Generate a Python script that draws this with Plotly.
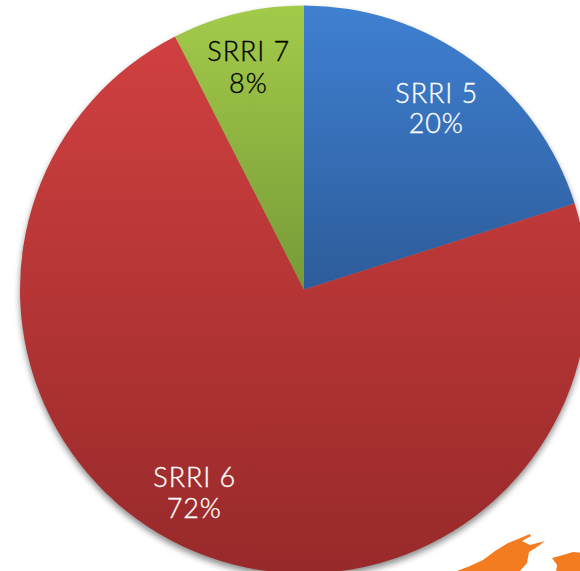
import plotly.graph_objects as go

categories = ["SRRI 5", "SRRI 6", "SRRI 7"]
drawn_shares = [20.1, 72.4, 7.5]
printed_percent = [20, 72, 8]
slice_top = ["#3f80d2", "#d04040", "#a3cb4a"]
slice_bottom = ["#2d5c9a", "#98292a", "#779a37"]
text_colors = ["white", "white", "black"]

W, H = 620, 600
CX, CY, R = 304, 289.5, 284
label_px = [(436, 92, 123), (194, 476, 507), (248, 50, 82)]


def px(x, y):
    return x / W, 1 - y / H


def path(points):
    return "M" + " L".join(f"{a:.4f},{b:.4f}" for a, b in (px(*p) for p in points)) + " Z"


bull = [(452, 580), (457, 571), (470, 566), (483, 560), (495, 551), (508, 543), (518, 539), (530, 534), (531, 536),
        (522, 541), (530, 545), (545, 541), (537, 547), (529, 552), (527, 563), (520, 571), (518, 580)]
bear = [(552, 558), (563, 555), (573, 552), (585, 553), (585, 580), (555, 580), (557, 565)]

fig = go.Figure(go.Pie(
    labels=categories,
    values=drawn_shares,
    sort=False,
    direction="clockwise",
    rotation=0,
    textinfo="none",
    hoverinfo="label",
    marker=dict(colors=slice_top, line=dict(width=0)),
    domain=dict(x=[(CX - R) / W, (CX + R) / W], y=[1 - (CY + R) / H, 1 - (CY - R) / H]),
    showlegend=False,
))

for name, pct, col, (x, y1, y2) in zip(categories, printed_percent, text_colors, label_px):
    for txt, y in ((name, y1), (f"{pct}%", y2)):
        ax, ay = px(x, y)
        fig.add_annotation(x=ax, y=ay, xref="paper", yref="paper", text=txt,
                           showarrow=False, xanchor="center", yanchor="middle",
                           font=dict(family="Lato", size=27, color=col, weight=300))

for pts in (bull, bear):
    fig.add_shape(type="path", xref="paper", yref="paper", path=path(pts),
                  fillcolor="#f47b20", line=dict(width=0))

fig.update_layout(width=W, height=H, margin=dict(l=0, r=0, t=0, b=0),
                  paper_bgcolor="white", plot_bgcolor="white")

tops = str(slice_top)
bottoms = str(slice_bottom)
post = """
document.documentElement.style.overflow='hidden';
document.body.style.margin='0';
document.body.style.overflow='hidden';
var gd=document.getElementsByClassName('plotly-graph-div')[0];
gd.style.position='absolute';gd.style.left='0';gd.style.top='0';
var tops=%s,bots=%s;
function paint(){
  var svg=gd.querySelector('svg.main-svg');
  var NS='http://www.w3.org/2000/svg';
  var defs=svg.querySelector('defs');
  gd.querySelectorAll('g.slice path.surface').forEach(function(p,i){
    var id='sliceGrad'+i;
    if(!document.getElementById(id)){
      var g=document.createElementNS(NS,'linearGradient');
      g.setAttribute('id',id);g.setAttribute('x1','0');g.setAttribute('y1','0');
      g.setAttribute('x2','0');g.setAttribute('y2','1');
      [[0,tops[i]],[1,bots[i]]].forEach(function(s){
        var st=document.createElementNS(NS,'stop');
        st.setAttribute('offset',s[0]);st.setAttribute('stop-color',s[1]);g.appendChild(st);
      });
      defs.appendChild(g);
    }
    p.style.fill='url(#'+id+')';
    p.setAttribute('fill','url(#'+id+')');
  });
  var tr=gd.querySelector('g.pielayer');
  if(tr){tr.style.filter='drop-shadow(0px 4px 3px rgba(0,0,0,0.45))';}
  gd.querySelectorAll('g.annotation text').forEach(function(t){
    t.style.letterSpacing='0.9px';
    t.style.stroke=t.style.fill;
    t.style.strokeWidth='0.35px';
  });
}
paint();
""" % (tops, bottoms)

fig.write_html("out.html", post_script=post, config={"displayModeBar": False})
